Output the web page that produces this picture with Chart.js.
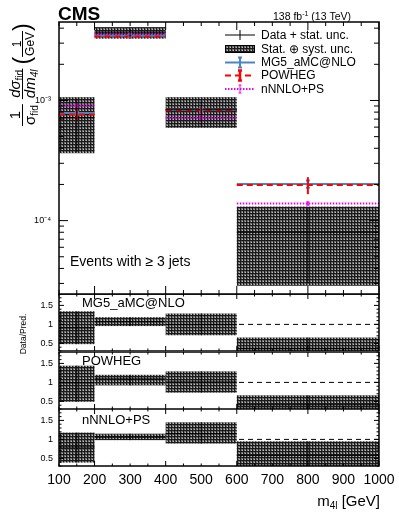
<!DOCTYPE html>
<html lang="en">

<head>
    <meta charset="UTF-8">
    <title>CMS - m4l, events with >= 3 jets</title>
    <script src="https://cdn.jsdelivr.net/npm/chart.js"></script>
    <style>
        body { margin: 0; background: white; }
        .painel { position: relative; width: 399px; height: 518px; }
        .painel canvas { position: absolute; left: 0; }
    </style>
</head>

<body>
    <div class="painel">
        <canvas id="grafico" width="399" height="518" style="top:0px"></canvas>
        <canvas id="razao1" width="399" height="58" style="top:294px"></canvas>
        <canvas id="razao2" width="399" height="57" style="top:352px"></canvas>
        <canvas id="razao3" width="399" height="109" style="top:409px"></canvas>
    </div>
</body>

</html>

<script>
    const FONTE = "'Liberation Sans', Arial, sans-serif";

    // bins in m4l (GeV)
    const limitesBins = [100, 200, 400, 600, 1000];
    const centrosBins = [150, 300, 500, 800];

    // main panel, 1/sigma dsigma/dm4l (1/GeV)
    const dados = [7.18e-4, 3.70e-3, 8.37e-4, 8.0e-5];
    const dadosStatAlto = [1.04e-3, 3.98e-3, 1.0e-3, 1.28e-4];
    const dadosStatBaixo = [3.7e-4, 3.42e-3, 6.07e-4, 3.0e-5];
    const faixaAlto = [1.066e-3, 4.08e-3, 1.066e-3, 1.31e-4];
    const faixaBaixo = [3.64e-4, 3.27e-3, 5.92e-4, 2.87e-5];

    const mg5 = [7.86e-4, 3.45e-3, 8.37e-4, 2.02e-4];
    const mg5Erro = [2.5e-5, 1.0e-4, 3.0e-5, 1.4e-5];
    const powheg = [7.64e-4, 3.40e-3, 8.30e-4, 1.98e-4];
    const powhegErro = [8e-5, 1.2e-4, 5e-5, 3.2e-5];
    const nnnlo = [9.08e-4, 3.56e-3, 7.17e-4, 1.39e-4];
    const nnnloErro = [2e-5, 6e-5, 2e-5, 4e-6];

    // ratio panels, Data/Pred.
    const razaoMG5 = [0.91, 1.07, 1.00, 0.37];
    const razaoMG5Alto = [1.345, 1.19, 1.286, 0.655];
    const razaoMG5Baixo = [0.48, 0.956, 0.714, 0.13];

    const razaoPOWHEG = [0.99, 1.09, 1.01, 0.41];
    const razaoPOWHEGAlto = [1.44, 1.20, 1.29, 0.66];
    const razaoPOWHEGBaixo = [0.49, 0.92, 0.73, 0.14];

    const razaoNNLO = [0.80, 1.06, 1.15, 0.58];
    const razaoNNLOAlto = [1.18, 1.15, 1.45, 0.95];
    const razaoNNLOBaixo = [0.39, 0.98, 0.89, 0.20];

    // ticks
    const ticksX = [100, 200, 300, 400, 500, 600, 700, 800, 900, 1000];
    const ticksLogY = [1e-4, 1e-3];
    const rotulosLogY = ['10\u207B\u2074', '10\u207B\u00B3'];
    const ticksRazao = [0.5, 1, 1.5];

    const legendaTextos = ['Data + stat. unc.', 'Stat. \u2295 syst. unc.', 'MG5_aMC@NLO', 'POWHEG', 'nNNLO+PS'];

    const corMG5 = '#4a86c4';
    const corPOWHEG = '#ff0000';
    const corNNLO = '#ee00ee';

    function hachura(ctx) {
        const c = document.createElement('canvas');
        c.width = 3; c.height = 3;
        const g = c.getContext('2d');
        g.fillStyle = '#707070'; g.fillRect(0, 0, 3, 3);
        g.fillStyle = '#1a1a1a'; g.fillRect(0, 0, 3, 1); g.fillRect(0, 0, 1, 3);
        g.fillStyle = '#bcbcbc'; g.fillRect(2, 2, 1, 1);
        return ctx.createPattern(c, 'repeat');
    }

    // horizontal segment per bin, with gaps between bins
    function degraus(valores) {
        const pontos = [];
        valores.forEach((v, i) => {
            pontos.push({ x: limitesBins[i], y: v });
            pontos.push({ x: limitesBins[i + 1], y: v });
            pontos.push({ x: limitesBins[i + 1], y: null });
        });
        return pontos;
    }

    function textoComposto(ctx, pedacos, x, y) {
        let w = 0;
        for (const [t, tam, dy, it] of pedacos) {
            ctx.font = (it ? 'italic ' : '') + tam + 'px ' + FONTE;
            ctx.fillText(t, x + w, y + dy);
            w += ctx.measureText(t).width;
        }
        return w;
    }

    function larguraComposta(ctx, pedacos) {
        let w = 0;
        for (const [t, tam, dy, it] of pedacos) {
            ctx.font = (it ? 'italic ' : '') + tam + 'px ' + FONTE;
            w += ctx.measureText(t).width;
        }
        return w;
    }

    function fracao(ctx, u, num, den, bNum, bDen) {
        const wn = larguraComposta(ctx, num), wd = larguraComposta(ctx, den);
        const w = Math.max(wn, wd) + 2;
        textoComposto(ctx, num, u + (w - wn) / 2, bNum);
        textoComposto(ctx, den, u + (w - wd) / 2, bDen);
        ctx.fillRect(u, -0.5, w, 1);
        return w;
    }

    function tituloEixoY(ctx) {
        ctx.save();
        ctx.fillStyle = '#000';
        ctx.textBaseline = 'alphabetic';
        ctx.translate(22.5, 126);
        ctx.rotate(-Math.PI / 2);
        let u = 0;
        u += fracao(ctx, u, [['1', 15, 0]], [['\u03C3', 15, 0], ['fid', 10, 3]], -3, 12);
        u += 5;
        u += fracao(ctx, u, [['d\u03C3', 15, 0, true], ['fid', 10, 3]], [['dm', 15, 0, true], ['4l', 10, 3, true]], -3, 12);
        u += 4;
        ctx.font = '23px ' + FONTE;
        ctx.textBaseline = 'middle';
        ctx.fillText('(', u, 1);
        u += ctx.measureText('(').width;
        ctx.textBaseline = 'alphabetic';
        u += fracao(ctx, u, [['1', 12, 0]], [['GeV', 12, 0]], -2, 11);
        ctx.font = '23px ' + FONTE;
        ctx.textBaseline = 'middle';
        ctx.fillText(')', u, 1);
        ctx.restore();
    }

    function molduraETicks(ctx, a, x, y, ehLog, tam) {
        ctx.save();
        ctx.strokeStyle = '#000';
        ctx.lineWidth = 1;
        ctx.beginPath();
        for (let v = 100; v <= 1000; v += 50) {
            const px = x.getPixelForValue(v);
            const l = (v % 200 === 0) ? tam.xMaior : tam.xMenor;
            ctx.moveTo(px, a.top); ctx.lineTo(px, a.top + l);
            ctx.moveTo(px, a.bottom); ctx.lineTo(px, a.bottom - l);
        }
        const marcas = [];
        if (ehLog) {
            for (let e = -5; e <= -3; e++) {
                for (let m = 1; m <= 9; m++) marcas.push([m * Math.pow(10, e), m === 1]);
            }
        } else {
            for (let k = 3; k <= 18; k++) marcas.push([k / 10, k % 5 === 0]);
        }
        for (const [v, maior] of marcas) {
            if (v < y.min || v > y.max) continue;
            const py = y.getPixelForValue(v);
            const l = maior ? tam.yMaior : tam.yMenor;
            ctx.moveTo(a.left, py); ctx.lineTo(a.left + l, py);
            ctx.moveTo(a.right, py); ctx.lineTo(a.right - l, py);
        }
        ctx.stroke();
        ctx.lineWidth = 1.5;
        ctx.strokeRect(a.left, a.top, a.right - a.left, a.bottom - a.top);
        ctx.restore();
    }

    function barraErro(ctx, px, y0, y1, cor, larg, cap) {
        ctx.strokeStyle = cor;
        ctx.lineWidth = larg;
        ctx.setLineDash([]);
        ctx.beginPath();
        ctx.moveTo(px, y0); ctx.lineTo(px, y1);
        if (cap > 0) {
            ctx.moveTo(px - cap, y0); ctx.lineTo(px + cap, y0);
            ctx.moveTo(px - cap, y1); ctx.lineTo(px + cap, y1);
        }
        ctx.stroke();
    }

    const pluginPrincipal = {
        id: 'principal',
        beforeDatasetsDraw(chart) {
            const { ctx, chartArea: a, scales: { x, y } } = chart;
            ctx.save();
            ctx.beginPath();
            ctx.rect(a.left, a.top, a.right - a.left, a.bottom - a.top);
            ctx.clip();
            ctx.fillStyle = hachura(ctx);
            for (let i = 0; i < dados.length; i++) {
                const x0 = x.getPixelForValue(limitesBins[i]);
                const x1 = x.getPixelForValue(limitesBins[i + 1]);
                const y0 = y.getPixelForValue(faixaAlto[i]);
                const y1 = y.getPixelForValue(faixaBaixo[i]);
                ctx.fillRect(x0, y0, x1 - x0, y1 - y0);
            }
            ctx.restore();
        },
        afterDatasetsDraw(chart) {
            const { ctx, chartArea: a, scales: { x, y } } = chart;
            ctx.save();
            ctx.beginPath();
            ctx.rect(a.left, a.top, a.right - a.left, a.bottom - a.top);
            ctx.clip();
            for (let i = 0; i < dados.length; i++) {
                const px = x.getPixelForValue(centrosBins[i]);
                barraErro(ctx, px, y.getPixelForValue(nnnlo[i] + nnnloErro[i]), y.getPixelForValue(nnnlo[i] - nnnloErro[i]), corNNLO, 1.5, 1.5);
                barraErro(ctx, px, y.getPixelForValue(mg5[i] + mg5Erro[i]), y.getPixelForValue(mg5[i] - mg5Erro[i]), corMG5, 2, 2);
                barraErro(ctx, px, y.getPixelForValue(powheg[i] + powhegErro[i]), y.getPixelForValue(powheg[i] - powhegErro[i]), corPOWHEG, 2, 0);
                barraErro(ctx, px, y.getPixelForValue(dadosStatAlto[i]), y.getPixelForValue(dadosStatBaixo[i]), '#000', 1, 0);
            }
            ctx.restore();
        },
        afterDraw(chart) {
            const { ctx, chartArea: a, scales: { x, y } } = chart;
            molduraETicks(ctx, a, x, y, true, { xMaior: 8, xMenor: 4, yMaior: 9, yMenor: 5 });

            ctx.save();
            ctx.fillStyle = '#000';
            ctx.textBaseline = 'alphabetic';
            // CMS
            ctx.font = 'bold 19px ' + FONTE;
            ctx.textAlign = 'left';
            ctx.fillText('CMS', 58, 20);
            // lumi
            const pedLumi = [['138 fb', 10.5, 0], ['-1', 7, -4], [' (13 TeV)', 10.5, 0]];
            const wLumi = larguraComposta(ctx, pedLumi);
            textoComposto(ctx, pedLumi, 351 - wLumi, 20);
            // texto jatos
            ctx.font = '14px ' + FONTE;
            ctx.fillText('Events with \u2265 3 jets', 70, 266);
            // titulo eixo x
            const pedX = [['m', 15, 0], ['4l', 10, 3], [' [GeV]', 15, 0]];
            const wX = larguraComposta(ctx, pedX);
            textoComposto(ctx, pedX, 380 - wX, 506);
            // Data/Pred.
            ctx.save();
            ctx.translate(26, 334);
            ctx.rotate(-Math.PI / 2);
            ctx.font = '8.5px ' + FONTE;
            ctx.textAlign = 'center';
            ctx.fillText('Data/Pred.', 0, 0);
            ctx.restore();
            ctx.restore();

            tituloEixoY(ctx);

            // legenda
            const linhas = [35, 49, 62.5, 75.5, 89];
            const xa = 225, xb = 255, xc = 240;
            ctx.save();
            ctx.lineCap = 'butt';
            // data
            ctx.strokeStyle = '#000'; ctx.lineWidth = 1;
            ctx.beginPath();
            ctx.moveTo(xa, linhas[0]); ctx.lineTo(xb, linhas[0]);
            ctx.moveTo(xc, linhas[0] - 5); ctx.lineTo(xc, linhas[0] + 5);
            ctx.stroke();
            // stat+syst
            ctx.fillStyle = hachura(ctx);
            ctx.fillRect(xa, linhas[1] - 4, xb - xa, 8);
            ctx.strokeRect(xa + 0.5, linhas[1] - 3.5, xb - xa - 1, 7);
            // MG5
            ctx.strokeStyle = corMG5; ctx.lineWidth = 2;
            ctx.beginPath(); ctx.moveTo(xa, linhas[2]); ctx.lineTo(xb, linhas[2]); ctx.stroke();
            barraErro(ctx, xc, linhas[2] - 5, linhas[2] + 5, corMG5, 2, 2);
            // POWHEG
            ctx.strokeStyle = corPOWHEG; ctx.lineWidth = 2;
            ctx.setLineDash([6, 4]);
            ctx.beginPath(); ctx.moveTo(xa, linhas[3]); ctx.lineTo(xb, linhas[3]); ctx.stroke();
            barraErro(ctx, xc, linhas[3] - 5, linhas[3] + 5, corPOWHEG, 2.5, 2);
            // nNNLO
            ctx.strokeStyle = corNNLO; ctx.lineWidth = 2;
            ctx.setLineDash([1.5, 1.5]);
            ctx.beginPath(); ctx.moveTo(xa, linhas[4]); ctx.lineTo(xb, linhas[4]); ctx.stroke();
            barraErro(ctx, xc, linhas[4] - 4, linhas[4] + 4, corNNLO, 1, 1.5);
            ctx.setLineDash([]);
            ctx.fillStyle = '#000';
            ctx.font = '12px ' + FONTE;
            ctx.textBaseline = 'middle';
            legendaTextos.forEach((t, i) => ctx.fillText(t, 261, linhas[i] + 0.5));
            ctx.restore();
        }
    };

    function plotar() {
        const data = {
            datasets: [
                { label: 'Data', data: degraus(dados), borderColor: '#000', borderWidth: 1 },
                { label: 'POWHEG', data: degraus(powheg), borderColor: corPOWHEG, borderWidth: 2, borderDash: [6, 4] },
                { label: 'MG5_aMC@NLO', data: degraus(mg5), borderColor: corMG5, borderWidth: 2 },
                { label: 'nNNLO+PS', data: degraus(nnnlo), borderColor: corNNLO, borderWidth: 2, borderDash: [1.5, 1.5] }
            ]
        };

        const config = {
            type: 'line',
            data: data,
            options: {
                responsive: false,
                animation: false,
                events: [],
                elements: { point: { radius: 0 }, line: { tension: 0, fill: false } },
                layout: { padding: { top: 22, right: 20, bottom: 518 - 294, left: 0 } },
                plugins: { legend: { display: false }, tooltip: { enabled: false } },
                scales: {
                    x: { type: 'linear', min: 100, max: 1000, display: false },
                    y: {
                        type: 'logarithmic',
                        min: 2.45e-5,
                        max: 4.5e-3,
                        afterFit: (s) => { s.width = 59; s.paddingTop = 0; s.paddingBottom = 0; },
                        afterBuildTicks: (s) => { s.ticks = ticksLogY.map(v => ({ value: v })); },
                        ticks: {
                            padding: 8,
                            color: '#000',
                            font: { size: 9, family: FONTE },
                            callback: (v) => rotulosLogY[ticksLogY.indexOf(v)] || ''
                        },
                        grid: { display: false, drawTicks: false },
                        border: { display: false }
                    }
                }
            },
            plugins: [pluginPrincipal]
        };

        let myChart = new Chart(document.getElementById('grafico'), config);
    }

    function plotarRazao(id, titulo, baseTitulo, razao, alto, baixo, mostrarEixoX) {
        const pluginRazao = {
            id: 'razao' + id,
            beforeDatasetsDraw(chart) {
                const { ctx, chartArea: a, scales: { x, y } } = chart;
                ctx.save();
                ctx.beginPath();
                ctx.rect(a.left, a.top, a.right - a.left, a.bottom - a.top);
                ctx.clip();
                // linha em 1
                ctx.strokeStyle = '#000';
                ctx.lineWidth = 1;
                ctx.setLineDash([5, 4]);
                ctx.beginPath();
                ctx.moveTo(a.left, y.getPixelForValue(1));
                ctx.lineTo(a.right, y.getPixelForValue(1));
                ctx.stroke();
                ctx.setLineDash([]);
                ctx.fillStyle = hachura(ctx);
                for (let i = 0; i < razao.length; i++) {
                    const x0 = x.getPixelForValue(limitesBins[i]);
                    const x1 = x.getPixelForValue(limitesBins[i + 1]);
                    const y0 = y.getPixelForValue(alto[i]);
                    const y1 = y.getPixelForValue(baixo[i]);
                    ctx.fillRect(x0, y0, x1 - x0, y1 - y0);
                }
                ctx.restore();
            },
            afterDatasetsDraw(chart) {
                const { ctx, chartArea: a, scales: { x, y } } = chart;
                ctx.save();
                ctx.beginPath();
                ctx.rect(a.left, a.top, a.right - a.left, a.bottom - a.top);
                ctx.clip();
                for (let i = 0; i < razao.length; i++) {
                    const px = x.getPixelForValue(centrosBins[i]);
                    barraErro(ctx, px, y.getPixelForValue(alto[i]), y.getPixelForValue(baixo[i]), '#000', 1, 0);
                }
                ctx.restore();
            },
            afterDraw(chart) {
                const { ctx, chartArea: a, scales: { x, y } } = chart;
                molduraETicks(ctx, a, x, y, false, { xMaior: 5, xMenor: 2.5, yMaior: 5, yMenor: 2.5 });
                ctx.save();
                ctx.fillStyle = '#000';
                ctx.font = '13px ' + FONTE;
                ctx.textBaseline = 'alphabetic';
                ctx.fillText(titulo, 82, a.top + baseTitulo);
                ctx.restore();
            }
        };

        const canvas = document.getElementById(id);
        const config = {
            type: 'line',
            data: {
                datasets: [{ label: 'Data/Pred.', data: degraus(razao), borderColor: '#000', borderWidth: 1 }]
            },
            options: {
                responsive: false,
                animation: false,
                events: [],
                elements: { point: { radius: 0 }, line: { tension: 0, fill: false } },
                layout: { padding: { top: 0, right: 20, bottom: 0, left: 0 } },
                plugins: { legend: { display: false }, tooltip: { enabled: false } },
                scales: {
                    x: {
                        type: 'linear',
                        min: 100,
                        max: 1000,
                        display: mostrarEixoX,
                        afterFit: (s) => { s.height = canvas.height - 57; s.paddingLeft = 0; s.paddingRight = 0; },
                        afterBuildTicks: (s) => { s.ticks = ticksX.map(v => ({ value: v })); },
                        ticks: {
                            padding: 6,
                            color: '#000',
                            autoSkip: false,
                            maxRotation: 0,
                            font: { size: 14, family: FONTE },
                            callback: (v) => String(v)
                        },
                        grid: { display: false, drawTicks: false },
                        border: { display: false }
                    },
                    y: {
                        type: 'linear',
                        min: 0.3,
                        max: 1.8,
                        afterFit: (s) => { s.width = 59; s.paddingTop = 0; s.paddingBottom = 0; },
                        afterBuildTicks: (s) => { s.ticks = ticksRazao.map(v => ({ value: v })); },
                        ticks: { padding: 6, color: '#000', font: { size: 9, family: FONTE }, callback: (v) => String(v) },
                        grid: { display: false, drawTicks: false },
                        border: { display: false }
                    }
                }
            },
            plugins: [pluginRazao]
        };

        let myChart = new Chart(canvas, config);
    }

    plotar();
    plotarRazao('razao1', 'MG5_aMC@NLO', 13, razaoMG5, razaoMG5Alto, razaoMG5Baixo, false);
    plotarRazao('razao2', 'POWHEG', 13, razaoPOWHEG, razaoPOWHEGAlto, razaoPOWHEGBaixo, false);
    plotarRazao('razao3', 'nNNLO+PS', 15, razaoNNLO, razaoNNLOAlto, razaoNNLOBaixo, true);
</script>
